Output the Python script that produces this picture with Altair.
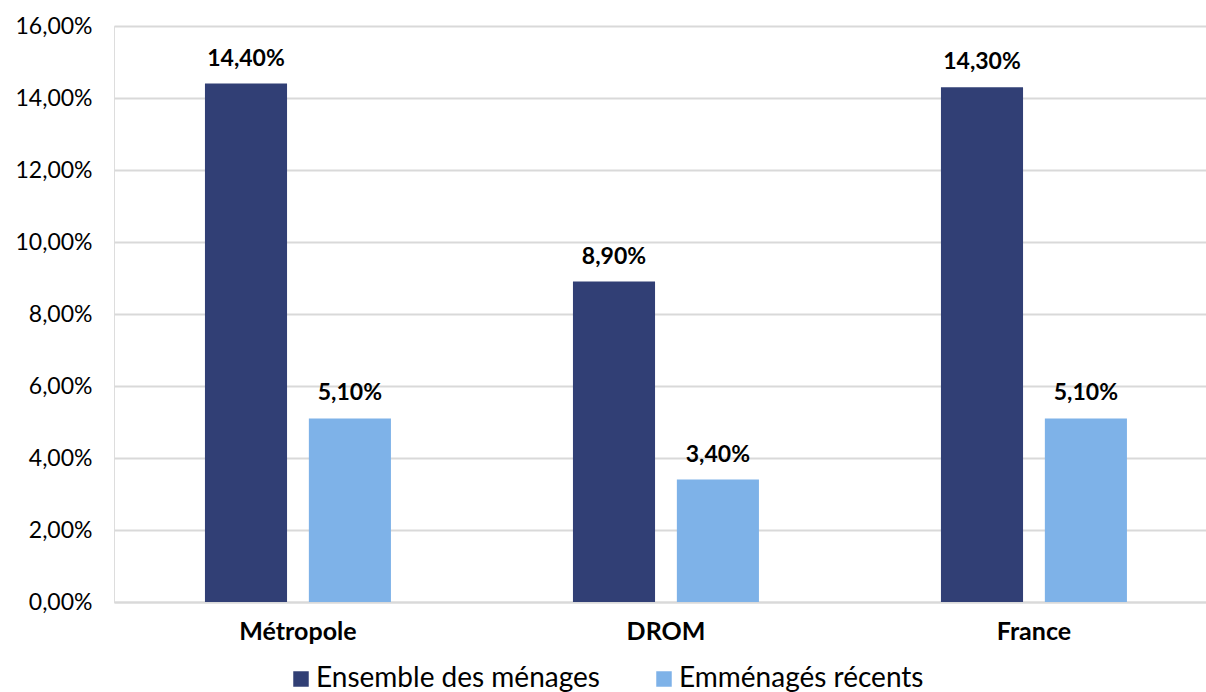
import altair as alt
import pandas as pd

categories = ["Métropole", "DROM", "France"]
series = ["Ensemble des ménages", "Emménagés récents"]
ensemble = [0.144, 0.089, 0.143]
recents = [0.051, 0.034, 0.051]
colors = ["#313F75", "#7EB2E8"]

rows = []
for c, a, b in zip(categories, ensemble, recents):
    rows.append({"cat": c, "serie": series[0], "val": a})
    rows.append({"cat": c, "serie": series[1], "val": b})
df = pd.DataFrame(rows)

FONT = "Lato"

x = alt.X("cat:N", sort=categories, title=None,
          scale=alt.Scale(paddingInner=0.4946, paddingOuter=0.231, align=0.535),
          axis=alt.Axis(labelAngle=0, labelFontWeight="bold", labelFontSize=25,
                        labelColor="#000000", labelFont=FONT, ticks=False,
                        domainColor="#d9d9d9", domainWidth=2, labelPadding=17))
xo = alt.XOffset("serie:N", sort=series, scale=alt.Scale(paddingInner=0.21, paddingOuter=0))
y = alt.Y("val:Q", title=None,
          scale=alt.Scale(domain=[0, 0.16], nice=False),
          axis=alt.Axis(values=[i * 0.02 for i in range(9)],
                        labelExpr="replace(format(datum.value, '.2%'), '.', ',')",
                        labelFontSize=23, labelFont=FONT, labelColor="#000000",
                        ticks=False, domain=False, gridColor="#d9d9d9", gridWidth=2,
                        labelPadding=22))

bars = alt.Chart(df).mark_bar().encode(
    x=x, xOffset=xo, y=y,
    color=alt.Color("serie:N", sort=series,
                    scale=alt.Scale(domain=series, range=colors),
                    legend=alt.Legend(title=None, orient="none", direction="horizontal",
                                      legendX=173, legendY=639, symbolType="square",
                                      symbolSize=240, labelFontSize=28, labelFont=FONT,
                                      labelColor="#000000", columnPadding=50,
                                      symbolStrokeWidth=0, labelOffset=1, labelLimit=0)),
)

labels = alt.Chart(df).mark_text(baseline="alphabetic", dy=-18, fontSize=23,
                                 fontWeight="bold", font=FONT, color="#000000").encode(
    x=x, xOffset=xo, y=y,
    text=alt.Text("lbl:N"),
).transform_calculate(lbl="replace(format(datum.val, '.2%'), '.', ',')")

chart = alt.layer(bars, labels).properties(
    width=1092, height=576,
    autosize=alt.AutoSizeParams(type="none"),
    padding={"left": 114, "top": 26, "right": 0, "bottom": 90},
).configure_view(stroke=None).configure(background="#ffffff")

chart.save("out.html", embed_options={"renderer": "svg", "actions": False})
